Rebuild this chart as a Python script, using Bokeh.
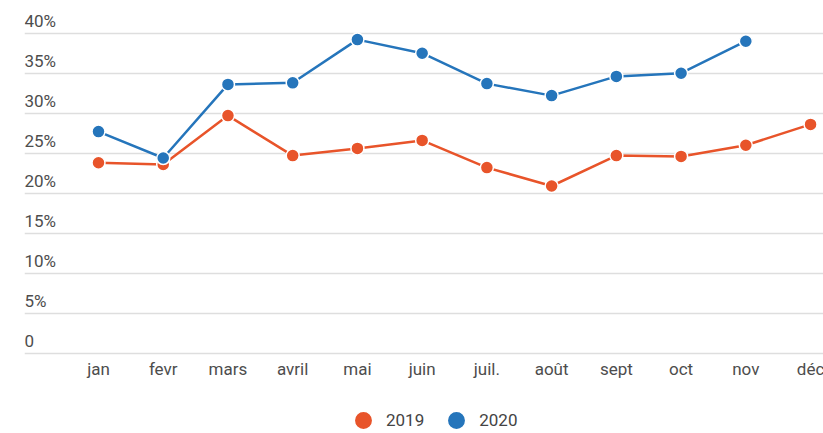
from bokeh.plotting import figure
from bokeh.models import Range1d, FixedTicker, ColumnDataSource, LabelSet, Legend, LegendItem
from bokeh.core.properties import value
from bokeh.embed import file_html
from bokeh.resources import INLINE

months = ["jan", "fevr", "mars", "avril", "mai", "juin", "juil.", "août", "sept", "oct", "nov", "déc"]
values_2019 = [23.8, 23.6, 29.7, 24.7, 25.6, 26.6, 23.2, 20.9, 24.7, 24.6, 26.0, 28.6]
values_2020 = [27.7, 24.4, 33.6, 33.8, 39.2, 37.5, 33.7, 32.2, 34.6, 35.0, 39.0]
y_ticks = [0, 5, 10, 15, 20, 25, 30, 35, 40]
y_tick_labels = ["0", "5%", "10%", "15%", "20%", "25%", "30%", "35%", "40%"]

RED = "#e8542a"
BLUE = "#2575bb"
TEXT = "#4d4d4d"
FONT = "Roboto"

x19 = list(range(len(values_2019)))
x20 = list(range(len(values_2020)))

src19 = ColumnDataSource(dict(x=x19, y=values_2019))
src20 = ColumnDataSource(dict(x=x20, y=values_2020))

p = figure(width=823, height=433, output_backend="svg", toolbar_location=None,
           x_range=Range1d(-1.143, 11.2), y_range=Range1d(-10.04, 44.09),
           min_border=0, min_border_left=24)
p.outline_line_color = None
p.xaxis.visible = False
p.yaxis.visible = False
p.xgrid.visible = False
p.ygrid.ticker = FixedTicker(ticks=y_ticks)
p.ygrid.grid_line_color = "#dedede"
p.ygrid.grid_line_width = 1.5

p.line("x", "y", source=src19, line_color=RED, line_width=2.5)
p.line("x", "y", source=src20, line_color=BLUE, line_width=2.5)
r19 = p.scatter("x", "y", source=src19, size=13, fill_color=RED, line_color="white", line_width=1.5)
r20 = p.scatter("x", "y", source=src20, size=13, fill_color=BLUE, line_color="white", line_width=1.5)

# y tick labels, left aligned above their gridlines
ysrc = ColumnDataSource(dict(x=[0] * len(y_ticks), y=y_ticks, t=y_tick_labels))
p.add_layout(LabelSet(x="x", y="y", text="t", source=ysrc, x_units="screen", y_units="data",
                      y_offset=6, text_align="left", text_baseline="alphabetic",
                      text_font=value(FONT), text_font_size=value("17px"), text_color=TEXT))

# x category labels
xsrc = ColumnDataSource(dict(x=list(range(len(months))), y=[0] * len(months), t=months))
p.add_layout(LabelSet(x="x", y="y", text="t", source=xsrc,
                      y_offset=-21.5, text_align="center", text_baseline="alphabetic",
                      text_font=value(FONT), text_font_size=value("17px"), text_color=TEXT))

legend = Legend(items=[LegendItem(label="2019", renderers=[r19]),
                       LegendItem(label="2020", renderers=[r20])],
                orientation="horizontal", location=(316, -10),
                glyph_width=46, glyph_height=46, padding=0, margin=0,
                spacing=9, label_standoff=0,
                border_line_color=None, background_fill_alpha=0,
                label_text_font=FONT, label_text_font_size="17px", label_text_color="#444444")
p.add_layout(legend)

open("out.html", "w").write(file_html(p, INLINE))
